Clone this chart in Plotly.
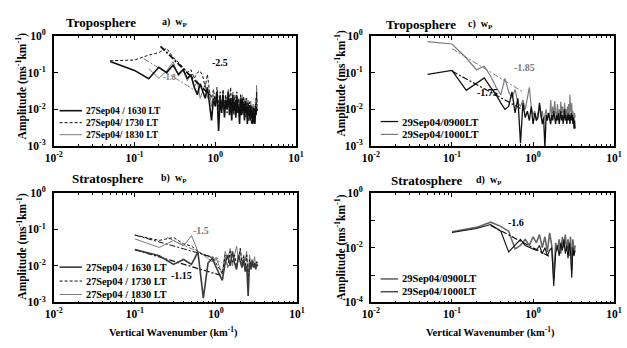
import plotly.graph_objects as go
import numpy as np

W, H = 627, 348
FONT = "Liberation Serif"

# ---------------- data ----------------
K_TROP = [0.05, 0.10, 0.15, 0.20, 0.25, 0.30, 0.35, 0.40, 0.45, 0.50,
          0.55, 0.60, 0.65, 0.70, 0.75, 0.80, 0.85, 0.90, 0.95, 1.00,
          1.05, 1.10, 1.15, 1.20, 1.25, 1.30, 1.35, 1.40, 1.45, 1.50,
          1.55, 1.60, 1.65, 1.70, 1.75, 1.80, 1.85, 1.90, 1.95, 2.00,
          2.05, 2.10, 2.15, 2.20, 2.25, 2.30, 2.35, 2.40, 2.45, 2.50,
          2.55, 2.60, 2.65, 2.70, 2.75, 2.80, 2.85, 2.90, 2.95, 3.00,
          3.05, 3.10, 3.15, 3.20, 3.25, 3.30]

K_STRAT = [0.1, 0.2, 0.3, 0.4, 0.5, 0.6, 0.7, 0.8, 0.9, 1.0,
           1.1, 1.2, 1.3, 1.4, 1.5, 1.6, 1.7, 1.8, 1.9, 2.0,
           2.1, 2.2, 2.3, 2.4, 2.5, 2.6, 2.7, 2.8, 2.9, 3.0,
           3.1, 3.2, 3.3]

# Panel a: troposphere, 27 Sep 04
A_1630 = [0.20, 0.115, 0.068, 0.14, 0.10, 0.16, 0.09, 0.12, 0.07, 0.085,
          0.04, 0.025, 0.05, 0.03, 0.02, 0.04, 0.015, 0.005, 0.02, 0.012,
          0.03, 0.0026, 0.02, 0.008, 0.025, 0.006, 0.018, 0.01, 0.03, 0.007,
          0.02, 0.005, 0.025, 0.009, 0.015, 0.006, 0.022, 0.008, 0.012, 0.004,
          0.018, 0.007, 0.02, 0.009, 0.014, 0.005, 0.017, 0.008, 0.012, 0.004,
          0.015, 0.007, 0.01, 0.005, 0.013, 0.006, 0.009, 0.004, 0.011, 0.005,
          0.008, 0.004, 0.01, 0.007, 0.012, 0.009]
A_1730 = [0.21, 0.22, 0.30, 0.35, 0.46, 0.26, 0.19, 0.14, 0.10, 0.12,
          0.07, 0.10, 0.11, 0.08, 0.04, 0.09, 0.03, 0.02, 0.035, 0.015,
          0.04, 0.012, 0.03, 0.01, 0.035, 0.012, 0.025, 0.008, 0.03, 0.015,
          0.04, 0.01, 0.02, 0.007, 0.025, 0.012, 0.03, 0.009, 0.02, 0.006,
          0.025, 0.01, 0.018, 0.007, 0.022, 0.009, 0.014, 0.006, 0.02, 0.008,
          0.012, 0.005, 0.016, 0.007, 0.01, 0.004, 0.012, 0.005, 0.009, 0.004,
          0.011, 0.006, 0.014, 0.008, 0.03, 0.012]
A_1830 = [None, None, 0.13, 0.07, 0.11, 0.20, 0.08, 0.12, 0.06, 0.09,
          0.04, 0.06, 0.02, 0.035, 0.05, 0.02, 0.03, 0.012, 0.025, 0.018,
          0.03, 0.01, 0.025, 0.014, 0.03, 0.009, 0.022, 0.012, 0.035, 0.01,
          0.02, 0.012, 0.03, 0.01, 0.02, 0.008, 0.025, 0.012, 0.018, 0.007,
          0.02, 0.011, 0.025, 0.009, 0.016, 0.007, 0.02, 0.01, 0.015, 0.006,
          0.018, 0.009, 0.013, 0.006, 0.017, 0.008, 0.012, 0.005, 0.014, 0.007,
          0.012, 0.006, 0.02, 0.01, 0.045, 0.015]
A_FIT_25_K = [0.21, 0.85]
A_FIT_25_V = [0.52, 0.025]
A_FIT_18_K = [0.13, 0.60]
A_FIT_18_V = [0.24, 0.03]

# Panel b: stratosphere, 27 Sep 04
B_1630 = [0.028, 0.019, 0.011, 0.015, 0.011, 0.024, 0.0013, 0.012, 0.016, 0.009,
          0.006, 0.004, 0.012, 0.02, 0.01, 0.025, 0.012, 0.008, 0.02, 0.013,
          0.009, 0.015, 0.007, 0.01, 0.0015, 0.012, 0.008, 0.014, 0.009, 0.012,
          0.008, 0.011, 0.01]
B_1730 = [0.07, 0.05, 0.06, 0.04, 0.035, 0.025, 0.02, 0.018, 0.017, 0.012,
          0.008, 0.006, 0.02, 0.009, 0.025, 0.012, 0.02, 0.01, 0.015, 0.03,
          0.012, 0.018, 0.009, 0.02, 0.004, 0.015, 0.01, 0.013, 0.009, 0.012,
          0.01, 0.013, 0.011]
B_1830 = [0.055, 0.032, 0.05, 0.035, 0.068, 0.025, 0.02, 0.016, 0.013, 0.017,
          0.01, 0.006, 0.025, 0.015, 0.03, 0.01, 0.02, 0.035, 0.015, 0.03,
          0.01, 0.02, 0.014, 0.025, 0.003, 0.02, 0.01, 0.015, 0.012, 0.018,
          0.009, 0.013, 0.012]
B_FIT_115_K = [0.10, 1.15]
B_FIT_115_V = [0.028, 0.0055]
B_FIT_15A_K = [0.10, 1.05]
B_FIT_15A_V = [0.07, 0.016]
B_FIT_15B_K = [0.25, 1.20]
B_FIT_15B_V = [0.06, 0.012]

# Panel c: troposphere, 29 Sep 04
C_0900 = [0.09, 0.115, 0.033, 0.05, 0.072, 0.04, 0.025, 0.015, 0.01, 0.012,
          0.03, 0.008, 0.02, 0.0012, 0.015, 0.006, 0.009, 0.005, 0.012, 0.004,
          0.008, 0.005, 0.006, 0.015, 0.007, 0.004, 0.006, 0.0009, 0.007, 0.005,
          0.008, 0.006, 0.004, 0.007, 0.005, 0.009, 0.006, 0.004, 0.007, 0.005,
          0.008, 0.004, 0.006, 0.009, 0.005, 0.007, 0.004, 0.006, 0.01, 0.005,
          0.007, 0.004, 0.006, 0.008, 0.005, 0.007, 0.004, 0.006, 0.008, 0.005,
          0.007, 0.004, 0.006, 0.003, 0.005, 0.003]
C_1000 = [0.70, 0.60, 0.25, 0.12, 0.15, 0.08, 0.04, 0.025, 0.07, 0.03,
          0.02, 0.035, 0.015, 0.012, 0.018, 0.01, 0.02, 0.04, 0.012, 0.007,
          0.009, 0.005, 0.008, 0.012, 0.006, 0.009, 0.005, 0.007, 0.01, 0.006,
          0.008, 0.005, 0.018, 0.006, 0.012, 0.007, 0.017, 0.008, 0.006, 0.014,
          0.007, 0.01, 0.006, 0.016, 0.008, 0.012, 0.007, 0.009, 0.015, 0.006,
          0.01, 0.007, 0.012, 0.008, 0.014, 0.006, 0.025, 0.01, 0.008, 0.015,
          0.005, 0.009, 0.006, 0.004, 0.008, 0.006]
C_FIT_185_K = [0.10, 0.75]
C_FIT_185_V = [0.45, 0.03]
C_FIT_175_K = [0.10, 0.78]
C_FIT_175_V = [0.11, 0.0093]

# Panel d: stratosphere, 29 Sep 04
D_0900 = [0.038, 0.055, 0.085, 0.06, 0.04, 0.009, 0.012, 0.02, 0.012, 0.025,
          0.015, 0.03, 0.01, 0.025, 0.007, 0.035, 0.012, 0.0008, 0.015, 0.008,
          0.02, 0.006, 0.025, 0.01, 0.03, 0.008, 0.02, 0.005, 0.025, 0.0015,
          0.02, 0.006, 0.012]
D_1000 = [0.036, 0.05, 0.07, 0.04, 0.007, 0.012, 0.02, 0.012, 0.01, 0.009,
          0.008, 0.012, 0.006, 0.01, 0.005, 0.008, 0.01, 0.0004, 0.006, 0.012,
          0.005, 0.015, 0.008, 0.02, 0.006, 0.012, 0.004, 0.015, 0.007, 0.0008,
          0.01, 0.005, 0.008]
D_FIT_16_K = [0.30, 1.65]
D_FIT_16_V = [0.065, 0.0045]

X_TICKS = [0.01, 0.1, 1, 10]
X_TICKTEXT = ["10<sup>-2</sup>", "10<sup>-1</sup>", "10<sup>0</sup>", "10<sup>1</sup>"]
Y_TICKS3 = [0.001, 0.01, 0.1, 1]
Y_TICKTEXT3 = ["10<sup>-3</sup>", "10<sup>-2</sup>", "10<sup>-1</sup>", "10<sup>0</sup>"]
Y_TICKS4 = [0.0001, 0.001, 0.01, 0.1, 1]
Y_TICKTEXT4 = ["10<sup>-4</sup>", "", "10<sup>-2</sup>", "", "10<sup>0</sup>"]

# ---------------- styles ----------------
BLACK = "#111111"
GREY = "#7a7a7a"
DARK = "#3a3a3a"
DASH = "3px,2px"
DASHDOT = "6px,2px,2px,2px"


def px(x):
    return x / W


def py(y):
    return 1 - y / H


fig = go.Figure()


def add(xs, ys, ax, color, width, dash="solid"):
    fig.add_trace(go.Scatter(x=xs, y=ys, mode="lines", xaxis="x" + ax, yaxis="y" + ax,
                             line=dict(color=color, width=width, dash=dash),
                             showlegend=False, hoverinfo="skip"))


# panel a (axis suffix "")
add(A_FIT_18_K, A_FIT_18_V, "", GREY, 1, DASHDOT)
add(K_TROP, A_1830, "", GREY, 1)
add(K_TROP, A_1630, "", BLACK, 1.6)
add(K_TROP, A_1730, "", BLACK, 1, DASH)
add(A_FIT_25_K, A_FIT_25_V, "", BLACK, 1.8, DASHDOT)

# panel b
add(B_FIT_15B_K, B_FIT_15B_V, "2", GREY, 1, DASHDOT)
add(B_FIT_15A_K, B_FIT_15A_V, "2", BLACK, 1, DASHDOT)
add(B_FIT_115_K, B_FIT_115_V, "2", BLACK, 1.3, DASHDOT)
add(K_STRAT, B_1830, "2", GREY, 1)
add(K_STRAT, B_1730, "2", BLACK, 1, DASH)
add(K_STRAT, B_1630, "2", DARK, 1.6)

# panel c
add(C_FIT_185_K, C_FIT_185_V, "3", GREY, 1, DASHDOT)
add(C_FIT_175_K, C_FIT_175_V, "3", BLACK, 1.2, DASHDOT)
add(K_TROP, C_1000, "3", GREY, 1.2)
add(K_TROP, C_0900, "3", BLACK, 1.3)

# panel d
add(K_STRAT, D_0900, "4", "#666666", 1.6)
add(K_STRAT, D_1000, "4", BLACK, 1.1)
add(D_FIT_16_K, D_FIT_16_V, "4", BLACK, 1.2, DASHDOT)

# ---------------- axes ----------------
PANELS = {
    "": dict(dx=(46, 295), dy=(29, 144), yr=(-3, 0), yt=(Y_TICKS3, Y_TICKTEXT3)),
    "2": dict(dx=(46, 296), dy=(192.7, 306.7), yr=(-3, 0), yt=(Y_TICKS3, Y_TICKTEXT3)),
    "3": dict(dx=(372, 622), dy=(29, 144), yr=(-3, 0), yt=(Y_TICKS3, Y_TICKTEXT3)),
    "4": dict(dx=(372, 622), dy=(192.7, 306.7), yr=(-4, 0), yt=(Y_TICKS4, Y_TICKTEXT4)),
}
tickfont = dict(family=FONT, size=11.5, color="black", weight="bold")
for s, p in PANELS.items():
    xa = "xaxis" + s
    ya = "yaxis" + s
    fig.layout[xa] = dict(
        type="log", range=[-2, 1], domain=[px(p["dx"][0]), px(p["dx"][1])],
        anchor="y" + s, showgrid=False, zeroline=False,
        showline=True, linecolor="black", linewidth=1.5, mirror="allticks",
        ticks="inside", ticklen=4, tickwidth=1, tickcolor="black",
        tickmode="array", tickvals=X_TICKS, ticktext=X_TICKTEXT, tickfont=tickfont,
        minor=dict(ticks="inside", ticklen=2, tickcolor="black", tickwidth=1,
                   dtick="D1", showgrid=False),
    )
    fig.layout[ya] = dict(
        type="log", range=list(p["yr"]), domain=[py(p["dy"][1]), py(p["dy"][0])],
        anchor="x" + s, showgrid=False, zeroline=False,
        showline=True, linecolor="black", linewidth=1.5, mirror="allticks",
        ticks="inside", ticklen=4, tickwidth=1, tickcolor="black",
        tickmode="array", tickvals=p["yt"][0], ticktext=p["yt"][1], tickfont=tickfont,
        ticklabelstandoff=4,
    )

# ---------------- text ----------------
ann = []


def text_paper(t, x, y, size, color="black", angle=0, xanchor="center"):
    ann.append(dict(text=t, x=px(x), y=py(y), xref="paper", yref="paper",
                    showarrow=False, textangle=angle, xanchor=xanchor, yanchor="middle",
                    font=dict(family=FONT, size=size, color=color, weight="bold")))


def text_data(t, k, v, s, size, color="black"):
    ann.append(dict(text=t, x=np.log10(k), y=np.log10(v), xref="x" + s, yref="y" + s,
                    showarrow=False, xanchor="center", yanchor="middle",
                    font=dict(family=FONT, size=size, color=color, weight="bold")))


# panel titles
text_paper("Troposphere", 95, 15, 13)
text_paper("a)  w<sub>P</sub>", 171, 15, 10)
text_paper("Stratosphere", 101, 178, 13)
text_paper("b)  w<sub>P</sub>", 170, 178, 10)
text_paper("Troposphere", 423, 17, 13)
text_paper("c)  w<sub>P</sub>", 485, 17, 10)
text_paper("Stratosphere", 429, 180, 13)
text_paper("d)  w<sub>P</sub>", 493, 180, 10)

# axis titles
YT = "Amplitude (ms<sup>-1</sup>km<sup>-1</sup>)"
text_paper(YT, 13, 81, 11.5, angle=-90)
text_paper(YT, 13, 248, 11.5, angle=-90)
text_paper(YT, 341, 78, 11.5, angle=-90)
text_paper(YT, 341, 249, 11.5, angle=-90)
XT = "Vertical Wavenumber (km<sup>-1</sup>)"
text_paper(XT, 169, 338, 10.5)
text_paper(XT, 495, 338, 10.5)

# slope labels
text_data("-2.5", 1.15, 0.19, "", 10)
text_data("-1.8", 0.27, 0.075, "", 8, GREY)
text_data("-1.5", 0.66, 0.093, "2", 10, GREY)
text_data("-1.15", 0.38, 0.0054, "2", 10)
text_data("-1.85", 0.785, 0.14, "3", 10, GREY)
text_data("-1.75", 0.277, 0.028, "3", 10)
text_data("-1.6", 0.62, 0.085, "4", 10)

# legends (drawn manually inside each panel)
shapes = []


def legend_row(label, x0, x1, y, size, color, width, dash="solid"):
    shapes.append(dict(type="line", xref="paper", yref="paper",
                       x0=px(x0), x1=px(x1), y0=py(y), y1=py(y),
                       line=dict(color=color, width=width, dash=dash)))
    text_paper(label, x1 + 2, y, size, xanchor="left")


legend_row("27Sep04 / 1630 LT", 52, 75, 107, 9.5, BLACK, 1.6)
legend_row("27Sep04/ 1730 LT", 52, 75, 119.5, 9.5, BLACK, 1, DASH)
legend_row("27Sep04/ 1830 LT", 52, 75, 132, 9.5, GREY, 1)

legend_row("27Sep04 / 1630 LT", 52, 75, 270, 10.3, DARK, 1.6)
legend_row("27Sep04 / 1730 LT", 52, 75, 284.5, 10.3, BLACK, 1, DASH)
legend_row("27Sep04 / 1830 LT", 52, 75, 298.5, 10.3, GREY, 1)

legend_row("29Sep04/0900LT", 382, 400, 118.3, 10.8, BLACK, 1.3)
legend_row("29Sep04/1000LT", 382, 400, 131.7, 10.8, GREY, 1.2)

legend_row("29Sep04/0900LT", 382, 400, 282.3, 10.5, "#666666", 1.6)
legend_row("29Sep04/1000LT", 382, 400, 295.7, 10.5, BLACK, 1.1)

fig.update_layout(
    width=W, height=H, margin=dict(l=0, r=0, t=0, b=0),
    paper_bgcolor="white", plot_bgcolor="white",
    showlegend=False, annotations=ann, shapes=shapes,
    font=dict(family=FONT, color="black"),
)

fig.write_html("out.html")
